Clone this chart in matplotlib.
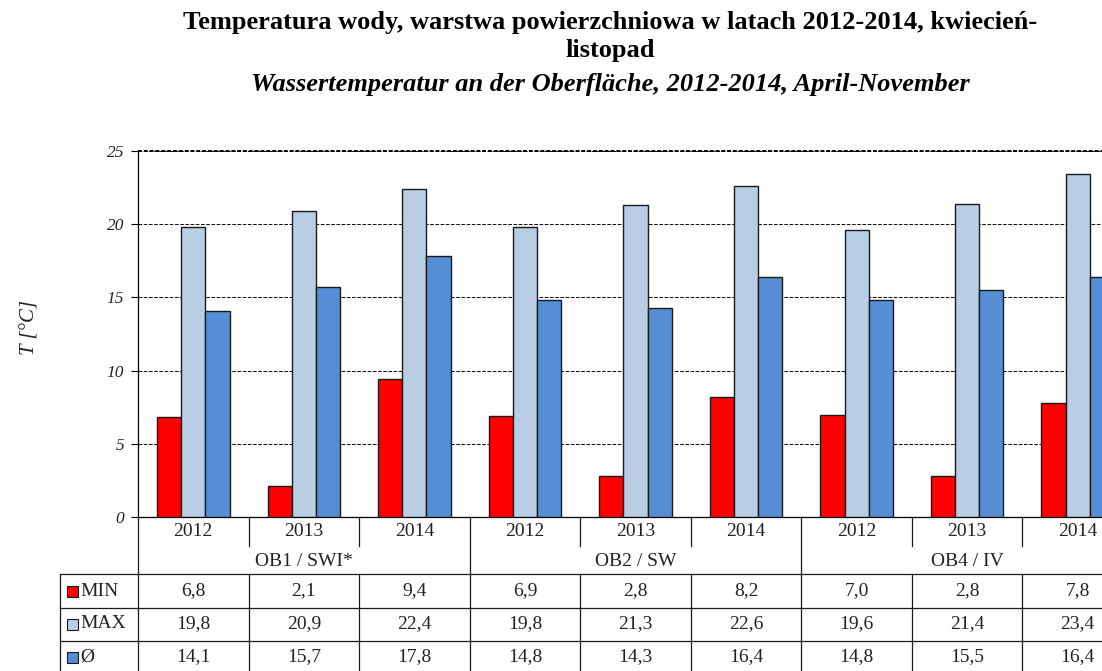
import matplotlib
matplotlib.use("Agg")
import matplotlib.pyplot as plt
from matplotlib.patches import Rectangle
from matplotlib.transforms import blended_transform_factory
import numpy as np

plt.rcParams["font.family"] = ["Liberation Serif", "DejaVu Serif"]

# --- data -------------------------------------------------------------------
years = ["2012", "2013", "2014"]
stations = ["OB1 / SWI*", "OB2 / SW", "OB4 / IV"]
t_min = [6.8, 2.1, 9.4, 6.9, 2.8, 8.2, 7.0, 2.8, 7.8]
t_max = [19.8, 20.9, 22.4, 19.8, 21.3, 22.6, 19.6, 21.4, 23.4]
t_avg = [14.1, 15.7, 17.8, 14.8, 14.3, 16.4, 14.8, 15.5, 16.4]
series_labels = ["MIN", "MAX", "Ø"]
colors = ["#FF0000", "#B9CDE5", "#558ED5"]

# --- layout helpers (pixel -> figure fraction) -------------------------------
W, H = 1102, 671
fig = plt.figure(figsize=(W / 100, H / 100), dpi=100)


def fx(px):
    return px / W


def fy(py):
    return 1 - py / H


ax = fig.add_axes([fx(138), fy(517), fx(1133) - fx(138), fy(151) - fy(517)])

series = [t_min, t_max, t_avg]
n = len(t_min)
x = np.arange(n)
bw = 0.219
for k, (vals, c) in enumerate(zip(series, colors)):
    ax.bar(x + (k - 1) * bw, vals, width=bw, color=c,
           edgecolor="#1a1a1a", linewidth=1.0, zorder=3)

ax.set_xlim(-0.5, n - 0.5)
ax.set_ylim(0, 25)
ax.set_yticks(range(0, 26, 5))
ax.set_yticklabels([str(v) for v in range(0, 26, 5)], fontstyle="italic",
                   fontsize=12.5, color="#222222")
ax.tick_params(axis="y", direction="out", length=5, width=0.8, pad=5)
ax.set_xticks([])
ax.yaxis.grid(True, linestyle=(0, (3.5, 1.5)), color="#111111", linewidth=0.75)
ax.set_axisbelow(True)
for s in ["top", "right"]:
    ax.spines[s].set_visible(False)
ax.spines["left"].set_linewidth(0.9)
ax.spines["bottom"].set_linewidth(0.9)
ax.axhline(25, color="black", linestyle=(0, (2, 1)), linewidth=1.4,
           clip_on=False, zorder=1)

# --- category table under the axis ------------------------------------------
tr = blended_transform_factory(ax.transData, fig.transFigure)
lc = "#1a1a1a"
lw = 0.9
fs = 14

for b in np.arange(-0.5, n, 1.0):
    if (b + 0.5) % 3 == 0:
        ax.plot([b, b], [fy(517), 0], color=lc, lw=lw, transform=tr, clip_on=False)
    else:
        ax.plot([b, b], [fy(517), fy(546)], color=lc, lw=lw, transform=tr, clip_on=False)
        ax.plot([b, b], [fy(574), 0], color=lc, lw=lw, transform=tr, clip_on=False)

for ry in [574, 608, 641]:
    fig.add_artist(plt.Line2D([fx(60), 1.0], [fy(ry), fy(ry)], color=lc, lw=lw))
fig.add_artist(plt.Line2D([fx(60), fx(60)], [fy(574), 0], color=lc, lw=lw))

for i in range(n):
    ax.text(i, fy(532), years[i % 3], transform=tr, ha="center", va="center",
            fontsize=fs, color="#222222")
for g, name in enumerate(stations):
    ax.text(3 * g + 1, fy(561), name, transform=tr, ha="center", va="center",
            fontsize=fs, color="#222222")

row_y = [591, 624, 657]
for vals, lab, c, ry in zip(series, series_labels, colors, row_y):
    for i, v in enumerate(vals):
        ax.text(i, fy(ry), f"{v:.1f}".replace(".", ","), transform=tr,
                ha="center", va="center", fontsize=fs, color="#222222")
    fig.add_artist(Rectangle((fx(67), fy(ry + 6)), fx(11), fy(ry - 5) - fy(ry + 6),
                             transform=fig.transFigure, facecolor=c,
                             edgecolor="#1a1a1a", linewidth=0.8))
    fig.text(fx(80), fy(ry), lab, ha="left", va="center", fontsize=fs,
             color="#222222")

# --- titles -----------------------------------------------------------------
fig.text(fx(610), fy(22),
         "Temperatura wody, warstwa powierzchniowa w latach 2012-2014, kwiecień-",
         ha="center", va="center", fontsize=19, fontweight="bold")
fig.text(fx(610), fy(51), "listopad", ha="center", va="center",
         fontsize=19, fontweight="bold")
fig.text(fx(610), fy(84),
         "Wassertemperatur an der Oberfläche, 2012-2014, April-November",
         ha="center", va="center", fontsize=19, fontweight="bold",
         fontstyle="italic")

fig.text(fx(30), fy(327), "T [°C]", rotation=90, ha="center", va="center",
         fontsize=15, fontstyle="italic", color="#222222")

fig.savefig("out.png", dpi=100, facecolor="white")
